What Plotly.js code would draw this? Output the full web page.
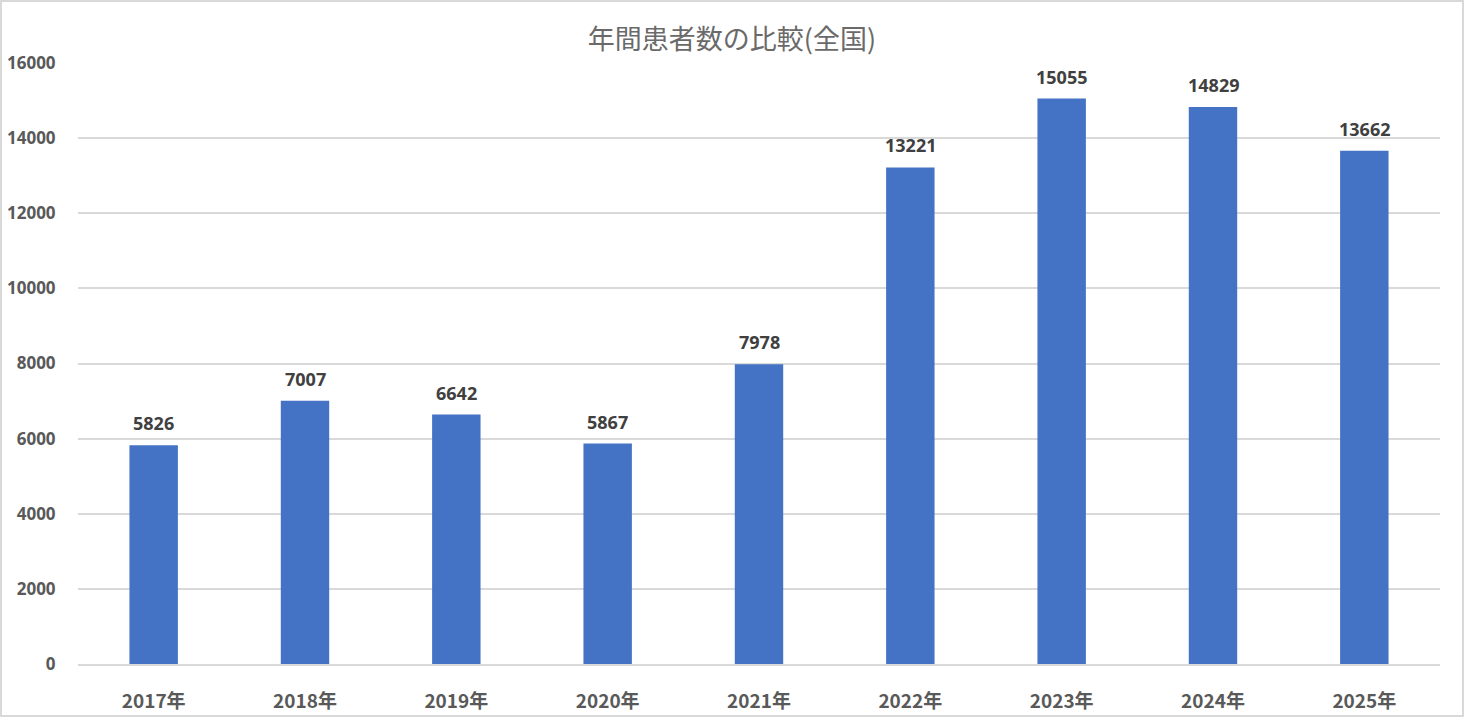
<!DOCTYPE html>
<html><head><meta charset="utf-8">
<script src="https://cdn.plot.ly/plotly-3.0.1.min.js"></script>
<style>html,body{margin:0;padding:0;background:#fff}#c{width:1460px;height:713px;border:2px solid #d9d9d9}</style>
</head><body><div id="c"></div>
<script>
const categories = ["2017年","2018年","2019年","2020年","2021年","2022年","2023年","2024年","2025年"];
const patients = [5826,7007,6642,5867,7978,13221,15055,14829,13662];
const yTicks = [0,2000,4000,6000,8000,10000,12000,14000,16000];

const FONT = "'Segoe UI','Open Sans','Noto Sans CJK JP',sans-serif";
const trace = {
  type:'bar', x:categories, y:patients,
  marker:{color:'#4472C4'}, hoverinfo:'x+y'
};
const annotations = categories.map((c,i)=>({
  x:c, y:patients[i], text:String(patients[i]), showarrow:false,
  xanchor:'center', yanchor:'bottom', yshift:8,
  font:{family:FONT, size:18, color:'#404040', weight:'bold'}
}));
const layout = {
  width:1460, height:713,
  margin:{l:76, r:22, t:61, b:51, pad:0},
  paper_bgcolor:'#fff', plot_bgcolor:'#fff',
  bargap:0.68,
  showlegend:false,
  title:{text:'年間患者数の比較(全国)', x:0.5, xanchor:'center', y:0.947, yanchor:'middle',
    font:{family:"'Noto Sans CJK JP',sans-serif", size:27, color:'#6a6a6a'}},
  xaxis:{type:'category', showgrid:false, showline:true, linecolor:'#d9d9d9', linewidth:1.5,
    ticks:'outside', ticklen:19, tickcolor:'rgba(0,0,0,0)',
    tickfont:{family:"'Noto Sans CJK JP',sans-serif", size:19, color:'#595959', weight:'bold'}},
  yaxis:{range:[0,16000], tickvals:yTicks, ticktext:yTicks.map(String), showgrid:true, gridcolor:'#d9d9d9', gridwidth:1.5,
    zeroline:false, showline:false, ticks:'outside', ticklen:18, tickcolor:'rgba(0,0,0,0)',
    tickfont:{family:FONT, size:17, color:'#595959', weight:'bold'}},
  annotations:annotations
};
Plotly.newPlot('c',[trace],layout,{displayModeBar:false});
</script></body></html>
